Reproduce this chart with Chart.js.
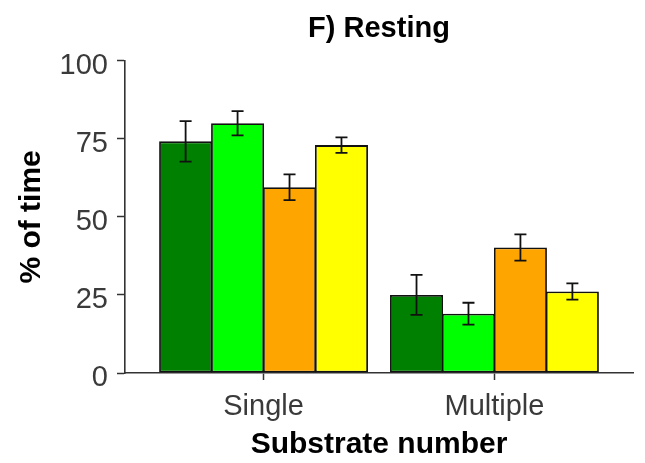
<!DOCTYPE html>
<html>
<head>
  <meta charset="utf-8">
  <title>F) Resting</title>
  <script src="https://cdn.jsdelivr.net/npm/chart.js@4/dist/chart.umd.min.js"></script>
  <style>
    body { margin: 0; background: #fff; }
  </style>
</head>
<body>
  <canvas id="chart" width="645" height="463"></canvas>
  <script>
  // data
  const categories = ['Single', 'Multiple'];
  const seriesNames = ['Group 1', 'Group 2', 'Group 3', 'Group 4'];
  const seriesColors = ['#008000', '#00ff00', '#ffa500', '#ffff00'];
  const group1 = [74.2, 25.0];
  const group2 = [80.0, 19.0];
  const group3 = [59.5, 40.2];
  const group4 = [73.0, 26.1];
  const group1Err = [6.5, 6.4];
  const group2Err = [3.9, 3.5];
  const group3Err = [4.1, 4.2];
  const group4Err = [2.5, 2.6];
  const yTicks = [0, 25, 50, 75, 100];

  const means = [group1, group2, group3, group4];
  const errs = [group1Err, group2Err, group3Err, group4Err];

  const font = 'Liberation Sans, Arial, sans-serif';

  // error bars drawn on top of the bars
  const errorBars = {
    id: 'errorBars',
    afterDatasetsDraw(chart) {
      const ctx = chart.ctx;
      const y = chart.scales.y;
      ctx.save();
      ctx.strokeStyle = '#111';
      ctx.lineWidth = 1.8;
      chart.data.datasets.forEach(function(ds, i){
        const meta = chart.getDatasetMeta(i);
        meta.data.forEach(function(bar, j){
          const v = ds.data[j].y;
          const e = ds.errors[j];
          const top = y.getPixelForValue(v + e);
          const bot = y.getPixelForValue(v - e);
          const cap = 6;
          ctx.beginPath();
          ctx.moveTo(bar.x, top); ctx.lineTo(bar.x, bot);
          ctx.moveTo(bar.x - cap, top); ctx.lineTo(bar.x + cap, top);
          ctx.moveTo(bar.x - cap, bot); ctx.lineTo(bar.x + cap, bot);
          ctx.stroke();
        });
      });
      ctx.restore();
    }
  };

  const datasets = seriesNames.map(function(name, i){
    return {
      label: name,
      data: means[i].map((v, j) => ({ x: j + 1, y: v })),
      errors: errs[i],
      backgroundColor: seriesColors[i],
      borderColor: '#111',
      borderWidth: 1.8,
      borderSkipped: false,
      categoryPercentage: 0.9,
      barPercentage: 1.02,
    };
  });

  new Chart(document.getElementById('chart'), {
    type: 'bar',
    data: { datasets: datasets },
    plugins: [errorBars],
    options: {
      responsive: false,
      animation: false,
      devicePixelRatio: 1,
      layout: { padding: { left: 0, right: 12, top: 0, bottom: 0 } },
      plugins: {
        legend: { display: false },
        tooltip: { enabled: false },
        title: {
          display: true,
          text: 'F) Resting',
          fullSize: false,
          color: '#000',
          font: { family: font, size: 29, weight: 'bold', lineHeight: 1.2 },
          padding: { top: 12, bottom: 14 },
        },
      },
      scales: {
        x: {
          type: 'linear',
          min: 0.4,
          max: 2.6,
          offset: false,
          afterBuildTicks: function(scale){
            scale.ticks = categories.map((c, i) => ({ value: i + 1 }));
          },
          afterFit: function(scale){ scale.height = 90; },
          ticks: {
            autoSkip: false,
            maxRotation: 0,
            padding: 10,
            color: '#3a3a3a',
            font: { family: font, size: 29 },
            callback: v => categories[v - 1],
          },
          grid: { offset: false, drawOnChartArea: false, drawTicks: true, tickLength: 7, color: '#333', tickWidth: 1.5 },
          border: { display: true, color: '#333', width: 1.6 },
          title: {
            display: true,
            text: 'Substrate number',
            color: '#000',
            font: { family: font, size: 30, weight: 'bold', lineHeight: 1.2 },
            padding: { top: 0, bottom: 0 },
          },
        },
        y: {
          min: 0,
          max: 100,
          afterBuildTicks: function(scale){
            scale.ticks = yTicks.map(v => ({ value: v }));
          },
          afterFit: function(scale){ scale.width = 125; },
          ticks: {
            padding: 9,
            labelOffset: 5,
            color: '#3a3a3a',
            font: { family: font, size: 29 },
          },
          grid: { drawOnChartArea: false, drawTicks: true, tickLength: 8, color: '#333', tickWidth: 1.5 },
          border: { display: true, color: '#333', width: 1.6 },
          title: {
            display: true,
            text: '% of time',
            color: '#000',
            font: { family: font, size: 30, weight: 'bold', lineHeight: 1.2 },
            padding: { top: 14, bottom: 0 },
          },
        },
      },
    },
  });
  </script>
</body>
</html>
